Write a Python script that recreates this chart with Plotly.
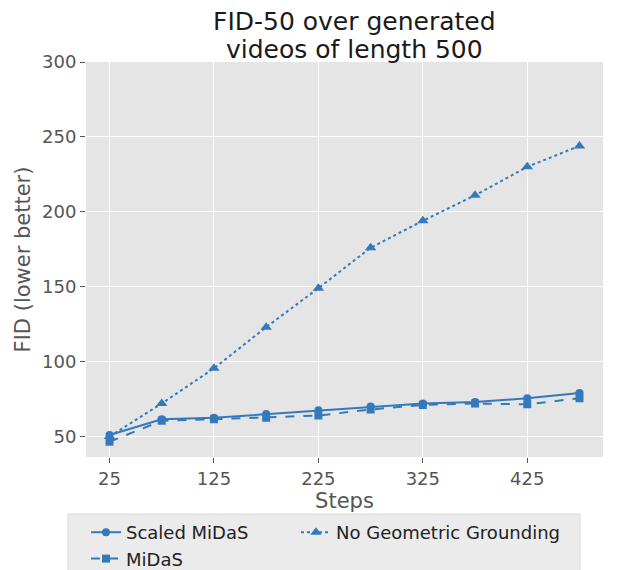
import plotly.graph_objects as go

steps = [25, 75, 125, 175, 225, 275, 325, 375, 425, 475]
scaled_midas = [51, 61.5, 62.5, 65, 67.5, 70, 72, 73, 75.5, 79]
midas = [46.5, 60.5, 61.5, 62.5, 64, 68, 71, 72, 71.5, 75.5]
no_geo = [50, 72, 95.5, 123, 149, 176, 194, 211, 230, 244]
x_ticks = [25, 125, 225, 325, 425]
y_ticks = [50, 100, 150, 200, 250, 300]
title_lines = ["FID-50 over generated", "videos of length 500"]

color = "#3479bb"
font = "DejaVu Sans"

fig = go.Figure()
fig.add_trace(go.Scatter(x=steps, y=scaled_midas, name="Scaled MiDaS", mode="lines+markers",
                         line=dict(color=color, width=2, dash="solid"),
                         marker=dict(symbol="circle", size=8, color=color), legend="legend"))
fig.add_trace(go.Scatter(x=steps, y=midas, name="MiDaS", mode="lines+markers",
                         line=dict(color=color, width=2, dash="dash"),
                         marker=dict(symbol="square", size=8, color=color), legend="legend"))
fig.add_trace(go.Scatter(x=steps, y=no_geo, name="No Geometric Grounding", mode="lines+markers",
                         line=dict(color=color, width=2, dash="dot"),
                         marker=dict(symbol="triangle-up", size=10, color=color), legend="legend2"))

# page body has an 8px margin: figure coords = screen coords - 8
OFF = 8
W, H = 618, 562
L, R, T, B = 86 - OFF, 23, 62 - OFF, 113
pw = W - L - R
ph = H - T - B

def px_x(p):
    return (p - OFF - L) / pw

def px_y(p):
    return (H - B - (p - OFF)) / ph

leg_font = dict(family=font, size=18, color="#222222")
title_font = dict(family=font, size=25, color="#1a1a1a")

annotations = [
    dict(text=title_lines[0], xref="paper", yref="paper", x=px_x(354), y=px_y(22),
         xanchor="center", yanchor="middle", showarrow=False, font=title_font),
    dict(text=title_lines[1], xref="paper", yref="paper", x=px_x(354), y=px_y(49),
         xanchor="center", yanchor="middle", showarrow=False, font=title_font),
]

fig.update_layout(
    width=W, height=H,
    margin=dict(l=L, r=R, t=T, b=B, autoexpand=False),
    paper_bgcolor="white", plot_bgcolor="#E5E5E5",
    font=dict(family=font, size=18, color="#555555"),
    annotations=annotations,
    xaxis=dict(range=[2.5, 497.5], tickvals=x_ticks, showgrid=True, gridcolor="white", gridwidth=1,
               zeroline=False, ticks="outside", ticklen=5, tickcolor="#555555",
               title=dict(text="Steps", font=dict(size=21, color="#555555"), standoff=0)),
    yaxis=dict(range=[36.3, 300], tickvals=y_ticks, showgrid=True, gridcolor="white", gridwidth=1,
               zeroline=False, ticks="outside", ticklen=5, tickcolor="#555555",
               title=dict(text="FID (lower better)", font=dict(size=21, color="#555555"), standoff=5)),
    legend=dict(orientation="v", x=px_x(86), xanchor="left", y=px_y(514), yanchor="top",
                bgcolor="rgba(0,0,0,0)", borderwidth=0, font=leg_font, tracegroupgap=0),
    legend2=dict(orientation="v", x=px_x(296), xanchor="left", y=px_y(514), yanchor="top",
                 bgcolor="rgba(0,0,0,0)", borderwidth=0, font=leg_font),
    showlegend=True,
    shapes=[dict(type="rect", xref="paper", yref="paper",
                 x0=px_x(68), x1=px_x(580), y0=px_y(590), y1=px_y(514),
                 fillcolor="#EBEBEB", line=dict(color="#DDDDDD", width=1), layer="below")],
)

fig.write_html("out.html")
